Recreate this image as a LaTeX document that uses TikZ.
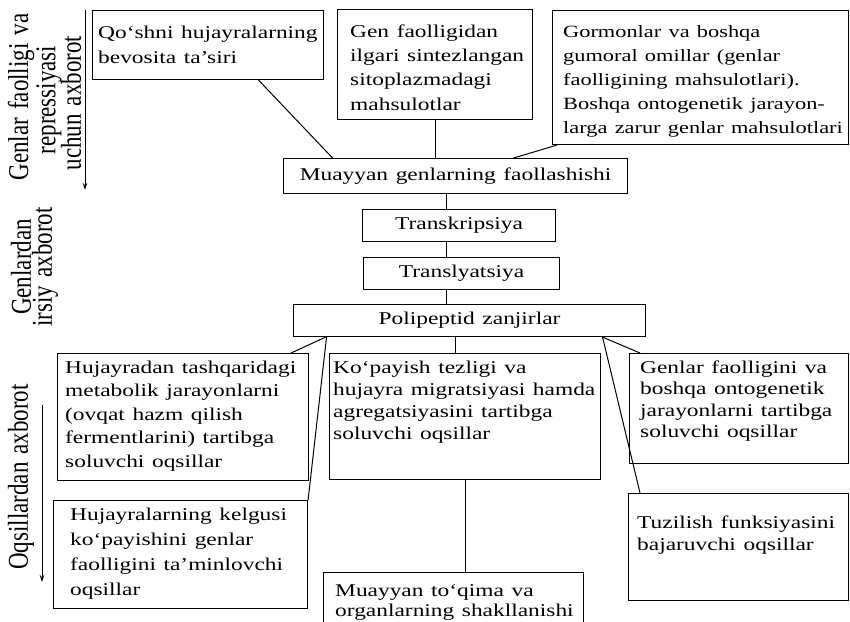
\documentclass[tikz,border=0pt]{standalone}
\usepackage{fontspec}
\usepackage{graphicx}
\setmainfont{Liberation Serif}
\newfontfamily\boxfont{Liberation Serif}[FakeStretch=1.3,WordSpace=1.3]
\newfontfamily\sidefont{Liberation Serif}[WordSpace=1.4]
\usetikzlibrary{arrows.meta}
\newcommand\sidetext[1]{\scalebox{1}[1.25]{#1}}
\tikzset{
  box/.style={draw=black, line width=1.1pt, inner sep=0pt, anchor=north west,
    font=\boxfont\fontsize{18}{24}\selectfont},
  txt/.style={font=\boxfont\fontsize{18}{#1}\selectfont, align=left, inner sep=0pt, anchor=north west},
  side/.style={font=\sidefont\fontsize{23}{23}\selectfont, rotate=90, inner sep=0pt},
  conn/.style={line width=1pt},
  sidearrow/.style={line width=1pt, -{Stealth[length=7pt,width=4.5pt]}}
}
\begin{document}
\begin{tikzpicture}[x=1pt,y=-1pt]
\useasboundingbox (0,0) rectangle (850,621);
% boxes
\node[box, minimum width=231pt, minimum height=69pt] (a) at (92,10) {};
\node[box, minimum width=195pt, minimum height=110pt] (b) at (337,9) {};
\node[box, minimum width=296pt, minimum height=134pt] (c) at (552,10) {};
\node[box, minimum width=344pt, minimum height=35pt] (d) at (283,158) {Muayyan genlarning faollashishi};
\node[box, minimum width=193pt, minimum height=32pt] (t1) at (362,209) {Transkripsiya};
\node[box, minimum width=196pt, minimum height=32pt] (t2) at (363,257) {Translyatsiya};
\node[box, minimum width=352pt, minimum height=32pt] (p) at (293,304) {Polipeptid zanjirlar};
\node[box, minimum width=251pt, minimum height=127pt] (e) at (57,353) {};
\node[box, minimum width=271pt, minimum height=126pt] (g) at (329,353) {};
\node[box, minimum width=219pt, minimum height=110pt] (h) at (629,353) {};
\node[box, minimum width=254pt, minimum height=108pt] (f) at (53,500) {};
\node[box, minimum width=220pt, minimum height=107pt] (i) at (628,493) {};
\node[box, minimum width=260pt, minimum height=53pt] (j) at (323,572) {};
% texts
\node[txt=25] (at) at (98,25.5) {Qo‘shni hujayralarning\\ bevosita ta’siri};
\node[txt=24.3] (bt) at (350,24.5) {Gen faolligidan\\ ilgari sintezlangan\\ sitoplazmadagi\\ mahsulotlar};
\node[txt=24, font=\boxfont\fontsize{17.2}{24}\selectfont] (ct) at (563,25) {Gormonlar va boshqa\\ gumoral omillar (genlar\\ faolligining mahsulotlari).\\ Boshqa ontogenetik jarayon-\\ larga zarur genlar mahsulotlari};
\node[txt=23.5] (et) at (65,360.5) {Hujayradan tashqaridagi\\ metabolik jarayonlarni\\ (ovqat hazm qilish\\ fermentlarini) tartibga\\ soluvchi oqsillar};
\node[txt=22] (gt) at (333,360.5) {Ko‘payish tezligi va\\ hujayra migratsiyasi hamda\\ agregatsiyasini tartibga\\ soluvchi oqsillar};
\node[txt=21.5] (ht) at (640,360.5) {Genlar faolligini va\\ boshqa ontogenetik\\ jarayonlarni tartibga\\ soluvchi oqsillar};
\node[txt=25] (ft) at (70,507.5) {Hujayralarning kelgusi\\ ko‘payishini genlar\\ faolligini ta’minlovchi\\ oqsillar};
\node[txt=22] (it) at (637,515.5) {Tuzilish funksiyasini\\ bajaruvchi oqsillar};
\node[txt=20] (jt) at (335,584.5) {Muayyan to‘qima va\\ organlarning shakllanishi};
% connectors
\draw[conn] ([xshift=50.5pt]a.south) -- ([xshift=-123pt]d.north);
\draw[conn] (b.south) -- (b.south |- d.north);
\draw[conn] ([xshift=58pt]d.north) -- ([xshift=5pt]c.south west);
\draw[conn] ([xshift=-9pt]d.south) -- ([xshift=-9pt]d.south |- t1.north);
\draw[conn] ([xshift=-12.5pt]t1.south) -- ([xshift=-12.5pt]t1.south |- t2.north);
\draw[conn] ([xshift=-15pt]t2.south) -- ([xshift=-15pt]t2.south |- p.north);
\draw[conn] ([xshift=-144pt]p.south) -- ([xshift=-18pt]e.north east);
\draw[conn] ([xshift=-143pt]p.south) -- (f.north east);
\draw[conn] ([xshift=-14pt]p.south) -- ([xshift=-14pt]p.south |- g.north);
\draw[conn] ([xshift=133pt]p.south) -- ([xshift=11pt]h.north west);
\draw[conn] ([xshift=133pt]p.south) -- ([xshift=12pt]i.north west);
\draw[conn] (g.south) -- (g.south |- j.north);
% side arrows
\coordinate (s1a) at (85,10);
\coordinate (s1b) at (85,190);
\draw[sidearrow] (s1a) -- (s1b);
\coordinate (s3a) at (42,405);
\coordinate (s3b) at (42,582);
\draw[sidearrow] (s3a) -- (s3b);
% side labels
\node[side] (l1a) at (21,97) {\sidetext{Genlar faolligi va}};
\node[side] (l1b) at (49,100) {\sidetext{repressiyasi}};
\node[side] (l1c) at (71,103) {\sidetext{uchun axborot}};
\node[side] (l2a) at (21,267) {\sidetext{Genlardan}};
\node[side] (l2b) at (45,267) {\sidetext{irsiy axborot}};
\node[side] (l3) at (21,477) {\sidetext{Oqsillardan axborot}};
\end{tikzpicture}
\end{document}
